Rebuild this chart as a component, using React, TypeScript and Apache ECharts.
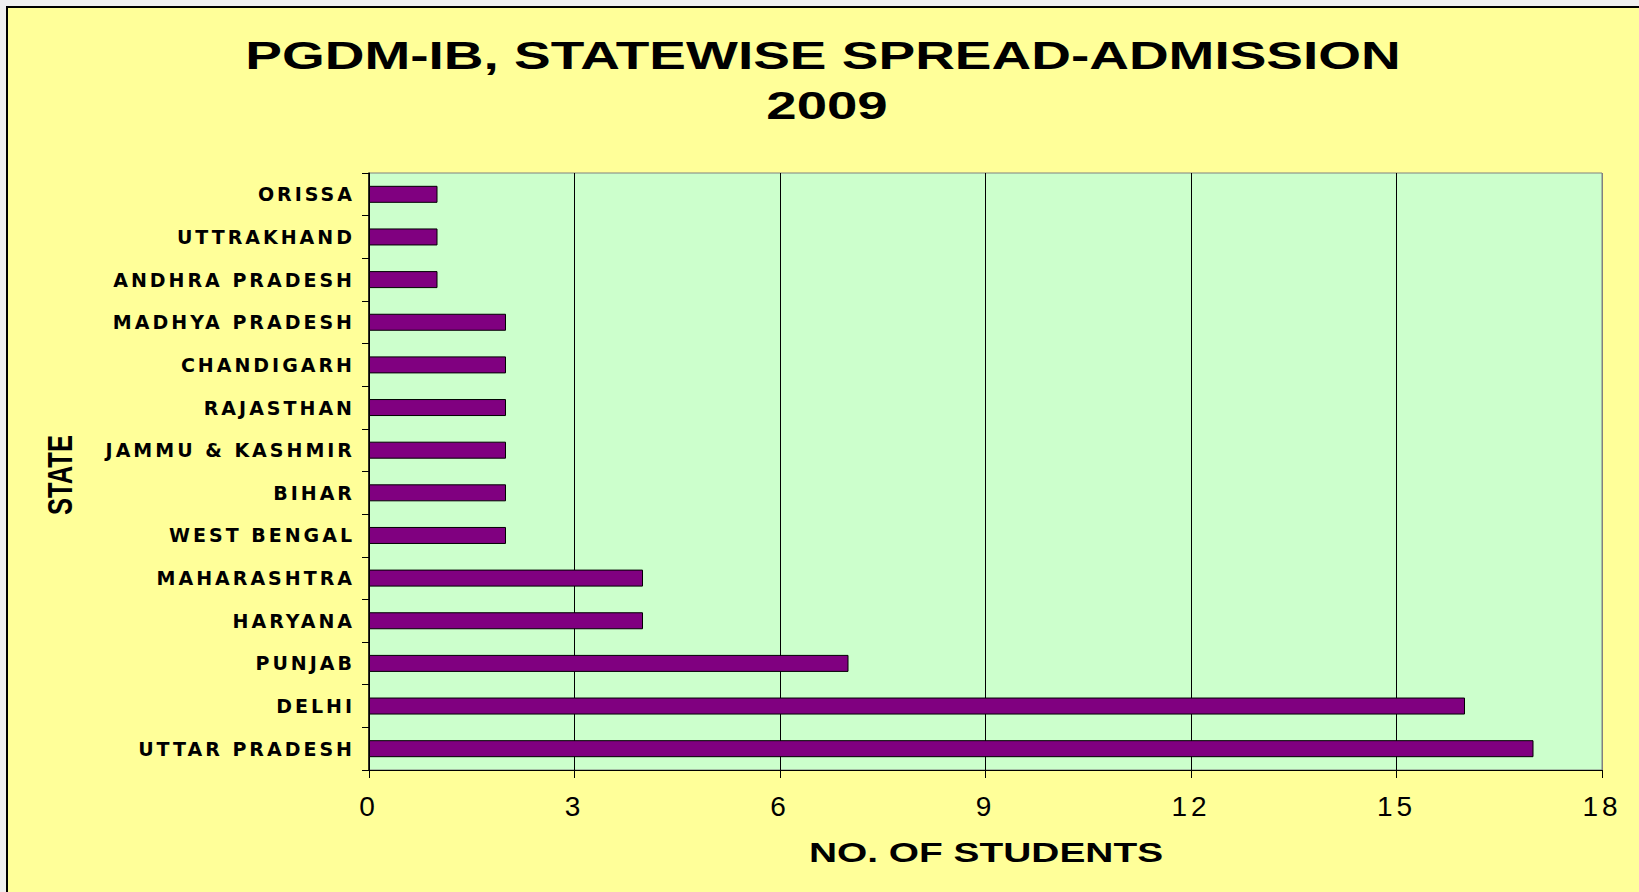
import React, { useEffect, useRef } from "react";
import * as echarts from "echarts";

const states = [
  "UTTAR PRADESH",
  "DELHI",
  "PUNJAB",
  "HARYANA",
  "MAHARASHTRA",
  "WEST BENGAL",
  "BIHAR",
  "JAMMU & KASHMIR",
  "RAJASTHAN",
  "CHANDIGARH",
  "MADHYA PRADESH",
  "ANDHRA PRADESH",
  "UTTRAKHAND",
  "ORISSA",
];
const students = [17, 16, 7, 4, 4, 2, 2, 2, 2, 2, 2, 1, 1, 1];
const titleLine1 = "PGDM-IB, STATEWISE SPREAD-ADMISSION";
const titleLine2 = "2009";
const xAxisTitle = "NO. OF STUDENTS";
const yAxisTitle = "STATE";
const xMin = 0;
const xMax = 18;
const xStep = 3;

const css = `
.chartbox text[style*="19px"], .chartbox text[font-size="19"], .chartbox text[font-size="19px"] { letter-spacing: 3px; }
.chartbox text[style*="28px"], .chartbox text[font-size="28"], .chartbox text[font-size="28px"] { letter-spacing: 4px; }
`;

export default function App() {
  const ref = useRef<HTMLDivElement>(null);
  useEffect(() => {
    if (!ref.current) return;
    const chart = echarts.init(ref.current, null, { renderer: "svg" });
    chart.setOption({
      animation: false,
      backgroundColor: "#FFFF99",
      grid: {
        left: 369,
        top: 173,
        width: 1233,
        height: 597,
        show: true,
        backgroundColor: "#CCFFCC",
        borderColor: "#808080",
        borderWidth: 1,
        containLabel: false,
      },
      xAxis: {
        type: "value",
        min: xMin,
        max: xMax,
        interval: xStep,
        axisLine: { show: true, lineStyle: { color: "#000", width: 1 } },
        axisTick: { show: true, length: 8, lineStyle: { color: "#000" } },
        axisLabel: {
          color: "#000",
          fontFamily: "Liberation Sans",
          fontSize: 28,
          margin: 22,
        },
        splitLine: {
          show: true,
          lineStyle: {
            color: ["#000", "#000", "#000", "#000", "#000", "#000", "#808080"],
            width: 1,
          },
        },
      },
      yAxis: {
        type: "category",
        data: states,
        axisLine: { show: true, lineStyle: { color: "#000", width: 1.5 } },
        axisTick: { show: true, length: 7, lineStyle: { color: "#000" } },
        axisLabel: {
          color: "#000",
          fontFamily: "DejaVu Sans",
          fontWeight: "bold",
          fontSize: 19,
          margin: 14,
        },
        splitLine: { show: false },
      },
      series: [
        {
          type: "bar",
          data: students,
          barWidth: 17,
          itemStyle: { color: "#800080", borderColor: "#000", borderWidth: 1 },
        },
      ],
      graphic: [
        { type: "rect", shape: { x: 0, y: 0, width: 6, height: 892 }, style: { fill: "#f0f0f0" }, silent: true },
        { type: "rect", shape: { x: 0, y: 0, width: 1639, height: 6 }, style: { fill: "#f0f0f0" }, silent: true },
        {
          type: "polyline",
          shape: { points: [[7, 892], [7, 7], [1639, 7]] },
          style: { stroke: "#000", lineWidth: 2, fill: "none" },
          silent: true,
        },
        {
          type: "text",
          x: 823,
          y: 56,
          scaleX: 1.41,
          style: {
            text: titleLine1,
            fontFamily: "Arial",
            fontWeight: "bold",
            fontSize: 39,
            fill: "#000",
            textAlign: "center",
            textVerticalAlign: "middle",
          },
        },
        {
          type: "text",
          x: 827,
          y: 105,
          scaleX: 1.4,
          style: {
            text: titleLine2,
            fontFamily: "Arial",
            fontWeight: "bold",
            fontSize: 39,
            fill: "#000",
            textAlign: "center",
            textVerticalAlign: "middle",
          },
        },
        {
          type: "text",
          x: 986,
          y: 853,
          scaleX: 1.44,
          style: {
            text: xAxisTitle,
            fontFamily: "Arial",
            fontWeight: "bold",
            fontSize: 27,
            fill: "#000",
            textAlign: "center",
            textVerticalAlign: "middle",
          },
        },
        {
          type: "text",
          x: 60,
          y: 475,
          rotation: Math.PI / 2,
          scaleX: 0.71,
          style: {
            text: yAxisTitle,
            fontFamily: "Arial",
            fontWeight: "bold",
            fontSize: 36,
            fill: "#000",
            textAlign: "center",
            textVerticalAlign: "middle",
          },
        },
      ],
    });
    return () => chart.dispose();
  }, []);
  return (
    <>
      <style>{css}</style>
      <div
        ref={ref}
        className="chartbox"
        style={{ position: "fixed", left: 0, top: 0, width: 1639, height: 892 }}
      />
    </>
  );
}
